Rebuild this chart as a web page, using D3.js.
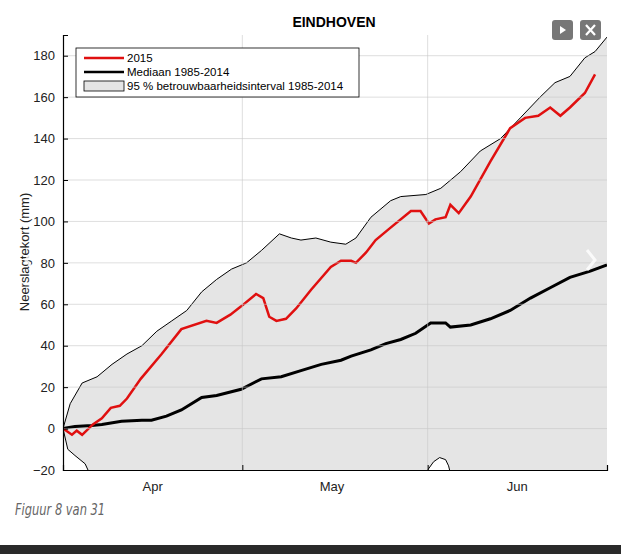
<!DOCTYPE html>
<html><head><meta charset="utf-8">
<script src="https://cdn.jsdelivr.net/npm/d3@7"></script>
<style>body{margin:0;background:#fff;}svg{display:block;font-family:"Liberation Sans",Arial,sans-serif;}</style>
</head><body><svg id="c" width="621" height="554"></svg>
<script>
// day offsets from 1 April 2015
const red = [[0,0],[1.5,-3],[2.3,-1],[3.2,-3],[5,2],[6.5,5],[8,10],[9.5,11],[10.7,14.5],[13,24],[16.5,36],[19.8,48],[24,52],[25.7,51],[28,55],[29.8,59],[32.3,65],[33.5,63],[34.5,54],[35.7,52],[37.3,53],[39,58],[41.5,67],[44.8,78],[46.5,81],[48.2,81],[49,80],[50.7,85],[52.3,91],[54.8,97],[58.2,105],[59.8,105],[61.2,99],[62.3,101],[64,102],[64.8,108],[66.2,104],[68.2,112],[71.5,129],[74.8,145],[77.3,150],[79.5,151],[81.5,155],[83.2,151],[84.8,155],[87.3,162],[89,171]];
const median = [[0,0],[2,1],[4.8,1.5],[6.5,2],[9.8,3.5],[13.2,4],[14.8,4],[17.3,6],[19.8,9],[23.2,15],[25.7,16],[29.8,19],[33.2,24],[36.5,25],[39.8,28],[43.2,31],[46.5,33],[48.2,35],[51.5,38],[54,41],[56.5,43],[59,46],[61.5,51],[64,51],[64.8,49],[68.2,50],[71.5,53],[74.8,57],[78.2,63],[81.5,68],[84.8,73],[88.2,76],[91,79]];
const upper = [[0,0],[1.2,12],[3.2,22],[5.7,25],[8.2,31],[10.7,36],[13.2,40],[15.7,47],[18.2,52],[20.7,57],[23.2,66],[25.7,72],[28.2,77],[30.7,80],[33.2,86],[36.2,94],[38.2,92],[39.8,91],[42.3,92],[44.8,90],[47.3,89],[49,92],[51.5,102],[54.8,110],[56.5,112],[60.7,113],[63.2,116],[66.5,124],[69.8,134],[73.2,140],[76.5,150],[79.8,160],[82.3,167],[84.8,170],[87.3,179],[89,182],[91,189]];
const lower = [[0,0],[0.8,-10],[2,-13],[3.7,-17],[4.5,-22],[8,-35],[20,-45],[40,-40],[55,-35],[60.5,-24],[61,-20],[62,-16],[63,-14],[64,-15],[64.5,-18],[65,-24],[70,-35],[91,-40]];

const svg = d3.select("#c");
const base = new Date(2015, 3, 1);
const day = d => d3.timeDay.offset(base, 0) .getTime() + d[0] * 864e5;
const x = d3.scaleTime().domain([new Date(2015,3,1), new Date(2015,6,1)]).range([63, 607]);
const y = d3.scaleLinear().domain([-20, 190]).range([470, 35]);

svg.append("defs").append("clipPath").attr("id", "clip")
   .append("rect").attr("x", 63).attr("y", 35).attr("width", 544).attr("height", 435);

const g = svg.append("g").attr("clip-path", "url(#clip)");

// band
const band = upper.map(d => [d[0], d[1], 0]);
const lowInterp = d3.scaleLinear().domain(lower.map(d => d[0])).range(lower.map(d => d[1]));
const area = d3.area().x(d => x(day(d))).y0(d => y(lowInterp(d[0]))).y1(d => y(d[1]));
const allDays = Array.from(new Set(upper.map(d => d[0]).concat(lower.map(d => d[0])))).sort((a, b) => a - b);
const upInterp = d3.scaleLinear().domain(upper.map(d => d[0])).range(upper.map(d => d[1]));
g.append("path").datum(allDays.map(t => [t, upInterp(t)]))
   .attr("d", area).attr("fill", "#e5e5e5");

// grid
const months = [new Date(2015,4,1), new Date(2015,5,1)];
svg.append("g").selectAll("line").data(months).join("line")
   .attr("x1", d => x(d)).attr("x2", d => x(d)).attr("y1", 35).attr("y2", 470)
   .attr("stroke", "#c8c8c8").attr("stroke-width", 0.6);
svg.append("g").selectAll("line").data(d3.range(0, 181, 20)).join("line")
   .attr("x1", 63).attr("x2", 607).attr("y1", d => y(d)).attr("y2", d => y(d))
   .attr("stroke", "#c8c8c8").attr("stroke-width", 0.6);

const line = d3.line().x(d => x(day(d))).y(d => y(d[1]));
g.append("path").datum(upper).attr("d", line).attr("fill", "none").attr("stroke", "#000").attr("stroke-width", 1);
g.append("path").datum(lower).attr("d", line).attr("fill", "none").attr("stroke", "#000").attr("stroke-width", 1);
g.append("path").datum(median).attr("d", line).attr("fill", "none").attr("stroke", "#000").attr("stroke-width", 3);
g.append("path").datum(red).attr("d", line).attr("fill", "none").attr("stroke", "#e01010").attr("stroke-width", 2.5);

// axes
const yAxis = svg.append("g").attr("transform", "translate(63,0)")
   .call(d3.axisLeft(y).tickValues(d3.range(-20, 181, 20)).tickSize(-5).tickPadding(8));
const xAxis = svg.append("g").attr("transform", "translate(0,470)")
   .call(d3.axisBottom(x).tickValues(months).tickSize(-5).tickFormat(""));
[yAxis, xAxis].forEach(a => {
   a.select(".domain").attr("stroke", "#000").attr("stroke-width", 1.2);
   a.selectAll("text").attr("font-size", 13).attr("fill", "#222");
});
svg.selectAll(".domain").attr("d", function() { return d3.select(this).attr("d").replace(/M[^V]*V/, m => m); });
svg.selectAll("g .domain"); // keep
svg.append("g").selectAll("text").data([new Date(2015,3,16), new Date(2015,4,16), new Date(2015,5,16)]).join("text")
   .attr("x", d => x(d)).attr("y", 491).attr("text-anchor", "middle").attr("font-size", 13).attr("fill", "#222")
   .text(d => d3.timeFormat("%b")(d));

svg.append("text").attr("x", 334).attr("y", 27).attr("text-anchor", "middle")
   .attr("font-size", 14).attr("font-weight", "bold").text("EINDHOVEN");
svg.append("text").attr("transform", "translate(29,252) rotate(-90)").attr("text-anchor", "middle")
   .attr("font-size", 13).attr("fill", "#222").text("Neerslagtekort (mm)");

// legend
const lg = svg.append("g").attr("transform", "translate(76,48)");
lg.append("rect").attr("width", 283).attr("height", 49).attr("fill", "#fff").attr("stroke", "#000").attr("stroke-width", 0.8);
const items = [["2015", "red"], ["Mediaan 1985-2014", "black"], ["95 % betrouwbaarheidsinterval 1985-2014", "box"]];
items.forEach((it, i) => {
   const yy = 10 + i * 14;
   if (it[1] === "box") lg.append("rect").attr("x", 8).attr("y", yy - 5).attr("width", 40).attr("height", 10).attr("fill", "#e5e5e5").attr("stroke", "#000").attr("stroke-width", 0.8);
   else lg.append("line").attr("x1", 8).attr("x2", 48).attr("y1", yy).attr("y2", yy).attr("stroke", it[1] === "red" ? "#e01010" : "#000").attr("stroke-width", 2.5);
   lg.append("text").attr("x", 51).attr("y", yy + 4).attr("font-size", 11.5).text(it[0]);
});

// buttons
[[552, "play"], [580, "x"]].forEach(b => {
   const bg = svg.append("g").attr("transform", `translate(${b[0]},20)`);
   bg.append("rect").attr("width", 21).attr("height", 20).attr("rx", 3).attr("fill", "#777");
   if (b[1] === "play") bg.append("path").attr("d", "M8,6L14,10L8,14Z").attr("fill", "#fff");
   else bg.append("path").attr("d", "M6,5L15,15M15,5L6,15").attr("stroke", "#fff").attr("stroke-width", 2.2);
});
// faint side arrows
svg.append("path").attr("d", "M34,250L26,260L34,270").attr("fill", "none").attr("stroke", "#fff").attr("stroke-width", 3).attr("opacity", 0.8);
svg.append("path").attr("d", "M587,250L595,260L587,270").attr("fill", "none").attr("stroke", "#fff").attr("stroke-width", 3).attr("opacity", 0.8);

svg.append("text").attr("x", 15).attr("y", 515).attr("font-size", 15).attr("font-style", "italic")
   .attr("fill", "#666").attr("font-family", "'Liberation Sans Narrow','DejaVu Sans Condensed',sans-serif")
   .attr("transform", "translate(15,0) scale(0.85,1) translate(-15,0)").text("Figuur 8 van 31");
svg.append("rect").attr("x", 0).attr("y", 545).attr("width", 621).attr("height", 9).attr("fill", "#2a2a2a");
</script></body></html>
